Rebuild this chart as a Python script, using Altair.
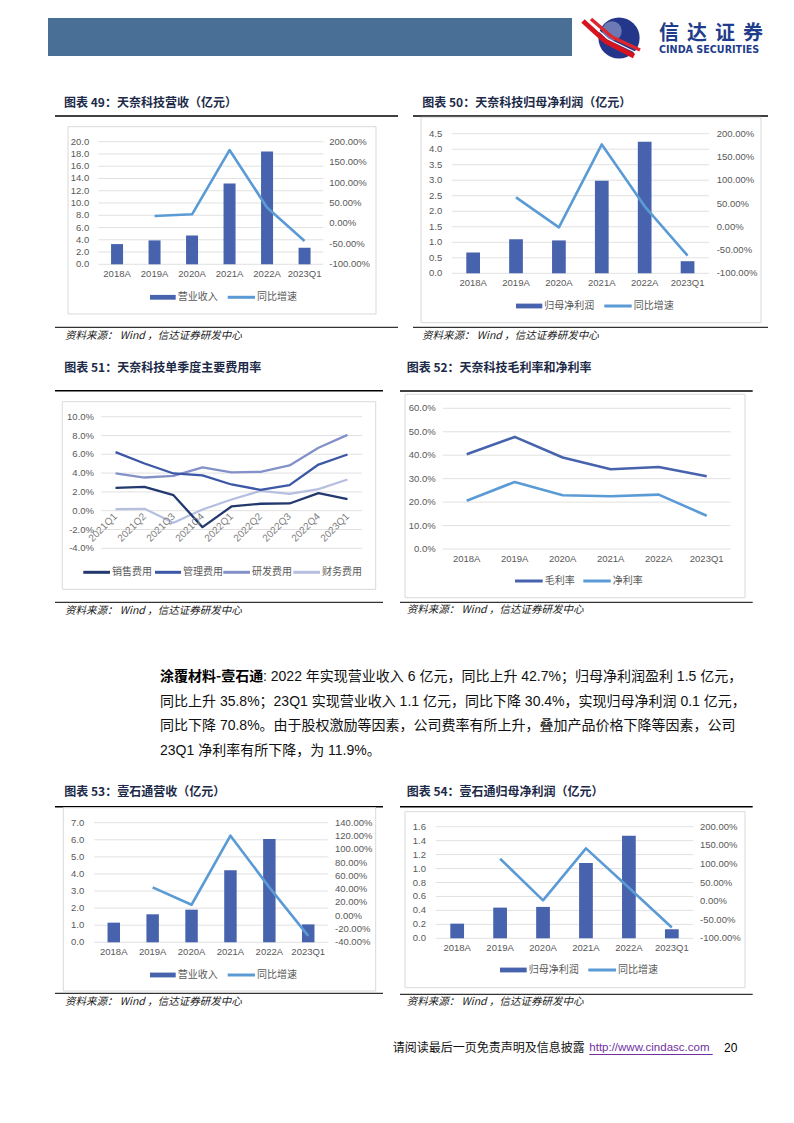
import altair as alt
import pandas as pd

# ---------------- data ----------------
years = ["2018A", "2019A", "2020A", "2021A", "2022A", "2023Q1"]
quarters = ["2021Q1", "2021Q2", "2021Q3", "2021Q4", "2022Q1",
            "2022Q2", "2022Q3", "2022Q4", "2023Q1"]

# 图表49 天奈科技营收
tn_revenue = [3.3, 3.9, 4.7, 13.2, 18.4, 2.7]
tn_revenue_yoy = [None, 18.2, 22.3, 179.6, 39.0, -43.0]
# 图表50 天奈科技归母净利润
tn_profit = [0.67, 1.10, 1.06, 2.98, 4.24, 0.39]
tn_profit_yoy = [None, 63.2, -1.2, 177.0, 44.0, -62.0]
# 图表51 单季度费用率 (%)
sales_rate = [2.43, 2.54, 1.65, -1.75, 0.45, 0.74, 0.77, 1.87, 1.23]
admin_rate = [6.23, 5.02, 3.96, 3.75, 2.79, 2.22, 2.72, 4.91, 5.98]
rd_rate = [3.96, 3.53, 3.71, 4.60, 4.07, 4.14, 4.81, 6.69, 8.07]
fin_rate = [0.16, 0.20, -1.29, 0.13, 1.19, 2.11, 1.79, 2.29, 3.32]
# 图表52 毛利率/净利率 (%)
gross_margin = [40.4, 47.8, 39.0, 34.0, 35.0, 31.0]
net_margin = [20.6, 28.6, 22.9, 22.5, 23.2, 14.2]
# 图表53 壹石通营收
ys_revenue = [1.15, 1.64, 1.91, 4.21, 6.04, 1.05]
ys_revenue_yoy = [None, 42.6, 16.5, 120.4, 42.7, -30.4]
# 图表54 壹石通归母净利润
ys_profit = [0.21, 0.44, 0.45, 1.08, 1.47, 0.13]
ys_profit_yoy = [None, 114.0, 2.1, 141.8, 35.8, -70.8]

# tick values
t49_left = [0, 2, 4, 6, 8, 10, 12, 14, 16, 18, 20]
t49_right = [-100, -50, 0, 50, 100, 150, 200]
t50_left = [0, 0.5, 1.0, 1.5, 2.0, 2.5, 3.0, 3.5, 4.0, 4.5]
t50_right = [-100, -50, 0, 50, 100, 150, 200]
t51_left = [-4, -2, 0, 2, 4, 6, 8, 10]
t52_left = [0, 10, 20, 30, 40, 50, 60]
t53_left = [0, 1, 2, 3, 4, 5, 6, 7]
t53_right = [-40, -20, 0, 20, 40, 60, 80, 100, 120, 140]
t54_left = [0, 0.2, 0.4, 0.6, 0.8, 1.0, 1.2, 1.4, 1.6]
t54_right = [-100, -50, 0, 50, 100, 150, 200]

SOURCE = "资料来源：    Wind  ，信达证券研发中心"
para_bold = "涂覆材料-壹石通"
para_lines = [
    ": 2022 年实现营业收入 6 亿元，同比上升 42.7%；归母净利润盈利 1.5 亿元，",
    "同比上升 35.8%；23Q1 实现营业收入 1.1 亿元，同比下降 30.4%，实现归母净利润 0.1 亿元，",
    "同比下降 70.8%。由于股权激励等因素，公司费率有所上升，叠加产品价格下降等因素，公司",
    "23Q1 净利率有所下降，为 11.9%。",
]

# ---------------- styles ----------------
CJK = "Noto Sans CJK SC"
LAT = "Liberation Sans"
MIX = "Liberation Sans, Noto Sans CJK SC"
GRAY = "#595959"
GRID = "#d9d9d9"
BAR = "#4863ad"
LINE = "#5b9bd5"
TITLE_C = "#1c2a48"
C_SALES = "#22386e"
C_ADMIN = "#3b57a6"
C_RD = "#8391c8"
C_FIN = "#b7bfe0"

ONE = pd.DataFrame({"k": [0]})
layers = []


def P(v):
    return v - 8


def text(s, x, y, size=10, color="#000000", font=CJK, weight="normal",
         align="left", baseline="middle", style="normal"):
    layers.append(
        alt.Chart(ONE).mark_text(align=align, baseline=baseline, font=font,
                                 fontSize=size, color=color, fontWeight=weight,
                                 fontStyle=style)
        .encode(x=alt.value(P(x)), y=alt.value(P(y)), text=alt.value(s)))


def rule(x1, y1, x2, y2, color="#000000", width=1.0):
    layers.append(
        alt.Chart(ONE).mark_rule(color=color, strokeWidth=width, strokeCap="butt")
        .encode(x=alt.value(P(x1)), y=alt.value(P(y1)),
                x2=alt.value(P(x2)), y2=alt.value(P(y2))))


def rect(x1, y1, x2, y2, fill, stroke=None, sw=1.0):
    kw = dict(fill=fill)
    if stroke:
        kw.update(stroke=stroke, strokeWidth=sw)
    layers.append(
        alt.Chart(ONE).mark_rect(**kw)
        .encode(x=alt.value(P(x1)), x2=alt.value(P(x2)),
                y=alt.value(P(y1)), y2=alt.value(P(y2))))


def frame(title, tx, ty, ry, rx1, rx2, box, sry, sx, sy):
    text(title, tx, ty, size=12, color=TITLE_C, weight="bold")
    rule(rx1, ry, rx2, ry, "#000000", 1.5)
    rect(box[0], box[1], box[2], box[3], "#ffffff", "#d9d9d9", 1)
    rule(rx1, sry, rx2, sry, "#000000", 1.0)
    text(SOURCE, sx, sy, size=10.5, color="#1a1a1a", style="italic")


def scales(cats, x0, x1, ylo, yhi, ybot, ytop):
    band = alt.Scale(domain=cats, range=[P(x0), P(x1)],
                     paddingInner=0.68, paddingOuter=0.34)
    pt = alt.Scale(type="point", domain=cats, range=[P(x0), P(x1)], padding=0.5)
    ys = alt.Scale(domain=[ylo, yhi], range=[P(ybot), P(ytop)], nice=False, zero=(ylo == 0))
    return band, pt, ys


def grid_and_labels(ticks, ys, gx0, gx1, lx, fmt, align="right", grid=True):
    df = pd.DataFrame({"t": ticks, "s": [fmt(t) for t in ticks]})
    if grid:
        layers.append(
            alt.Chart(df).mark_rule(color=GRID, strokeWidth=0.8)
            .encode(y=alt.Y("t:Q", scale=ys, axis=None),
                    x=alt.value(P(gx0)), x2=alt.value(P(gx1))))
    layers.append(
        alt.Chart(df).mark_text(align=align, baseline="middle", font=LAT,
                                fontSize=9.5, color=GRAY)
        .encode(y=alt.Y("t:Q", scale=ys, axis=None), x=alt.value(P(lx)),
                text="s:N"))


def xlabels(cats, pt, y, angle=None):
    kw = dict(align="center", baseline="middle", font=LAT, fontSize=9.5, color=GRAY)
    if angle:
        kw.update(angle=angle, align="right", color="#7f7f7f", fontSize=10)
    layers.append(
        alt.Chart(pd.DataFrame({"c": cats})).mark_text(**kw)
        .encode(x=alt.X("c:N", scale=pt, axis=None), y=alt.value(P(y)), text="c:N"))


def series_line(cats, vals, pt, ys, color, width=2.5):
    df = pd.DataFrame({"c": cats, "v": vals}).dropna()
    layers.append(
        alt.Chart(df).mark_line(color=color, strokeWidth=width, strokeJoin="round")
        .encode(x=alt.X("c:N", scale=pt, axis=None),
                y=alt.Y("v:Q", scale=ys, axis=None)))


def combo(cats, vals, yoy, x0, x1, ytop, ybot, lt, rt, lx, rx, xly, lfmt):
    band, pt, ly = scales(cats, x0, x1, lt[0], lt[-1], ybot, ytop)
    ry = alt.Scale(domain=[rt[0], rt[-1]], range=[P(ybot), P(ytop)], nice=False, zero=False)
    grid_and_labels(lt, ly, x0, x1, lx, lfmt)
    grid_and_labels(rt, ry, x0, x1, rx, lambda t: f"{t:.2f}%", align="left", grid=False)
    layers.append(
        alt.Chart(pd.DataFrame({"c": cats, "v": vals})).mark_bar(color=BAR)
        .encode(x=alt.X("c:N", scale=band, axis=None),
                y=alt.Y("v:Q", scale=ly, axis=None)))
    series_line(cats, yoy, pt, ry, LINE, 2.6)
    xlabels(cats, pt, xly)


def legend_bar(x1, x2, y, label):
    rect(x1, y - 2.4, x2, y + 2.4, BAR)
    text(label, x2 + 2, y, size=10, color=GRAY)


def legend_line(x1, x2, y, label, color=LINE):
    rule(x1, y, x2, y, color, 3)
    text(label, x2 + 2, y, size=10, color=GRAY)


# ---------------- header ----------------
rect(48, 18, 572, 56, "#4a6f96")
layers.append(alt.Chart(ONE).mark_point(shape="circle", filled=True, opacity=1,
                                        color="#24368a", size=1700)
              .encode(x=alt.value(P(619)), y=alt.value(P(38))))
layers.append(alt.Chart(ONE).mark_point(shape="circle", filled=True, opacity=0.45,
                                        color="#c5cbe8", size=380)
              .encode(x=alt.value(P(612)), y=alt.value(P(31))))
rule(583, 21, 605, 41, "#d7141e", 5)
rule(605, 41, 634, 56, "#d7141e", 5)
rule(591, 19, 612, 37, "#e0262d", 3.5)
rule(612, 37, 640, 50, "#e0262d", 3.5)
rule(587, 20, 608, 39, "#ffffff", 1.3)
rule(608, 39, 637, 53, "#ffffff", 1.3)
for i, ch in enumerate("信达证券"):
    text(ch, 659 + i * 28, 34, size=20, color="#1f3d8c", weight="bold")
text("CINDA SECURITIES", 659, 50, size=9.6, color="#1f3d8c", font="DejaVu Sans", weight="bold")

# ---------------- 图表49 ----------------
frame("图表 49：天奈科技营收（亿元）", 64, 102.7, 116, 55, 398,
      (68, 126.7, 376, 314), 327.3, 65, 335.7)
combo(years, tn_revenue, tn_revenue_yoy, 98.3, 323.3, 141.7, 264.3,
      t49_left, t49_right, 89.3, 329.3, 274.3, lambda t: f"{t:.1f}")
legend_bar(150, 175.7, 297.3, "营业收入")
legend_line(227.7, 255, 297.3, "同比增速")

# ---------------- 图表50 ----------------
frame("图表 50：天奈科技归母净利润（亿元）", 422.3, 103.3, 116, 413, 768,
      (421, 117.3, 761, 322.7), 327.3, 422, 335.7)
combo(years, tn_profit, tn_profit_yoy, 451.7, 709, 133.7, 273.3,
      t50_left, t50_right, 442.3, 716.7, 283.3, lambda t: f"{t:.1f}")
legend_bar(516, 542.3, 306, "归母净利润")
legend_line(604.3, 631.7, 306, "同比增速")

# ---------------- 图表51 ----------------
frame("图表 51：天奈科技单季度主要费用率", 64.3, 368.3, 390.7, 55, 383,
      (62.3, 401.7, 375.7, 589.3), 602.3, 65, 611)
_, pt51, ys51 = scales(quarters, 101, 362, -4, 10, 548.3, 416.7)
grid_and_labels(t51_left, ys51, 101, 362, 94, lambda t: f"{t:.1f}%")
series_line(quarters, fin_rate, pt51, ys51, C_FIN, 2.3)
series_line(quarters, rd_rate, pt51, ys51, C_RD, 2.3)
series_line(quarters, admin_rate, pt51, ys51, C_ADMIN, 2.3)
series_line(quarters, sales_rate, pt51, ys51, C_SALES, 2.3)
xlabels(quarters, pt51, 515, angle=315)
legend_line(83.3, 110, 572.3, "销售费用", C_SALES)
legend_line(155, 181, 572.3, "管理费用", C_ADMIN)
legend_line(223.3, 250, 572.3, "研发费用", C_RD)
legend_line(293.3, 320, 572.3, "财务费用", C_FIN)

# ---------------- 图表52 ----------------
frame("图表 52：天奈科技毛利率和净利率", 406.7, 368.3, 391, 400, 752.7,
      (405, 394.3, 745, 597.7), 602.3, 406.7, 610.3)
_, pt52, ys52 = scales(years, 442.7, 730.7, 0, 60, 549, 408.3)
grid_and_labels(t52_left, ys52, 442.7, 730.7, 435.7, lambda t: f"{t:.1f}%")
series_line(years, net_margin, pt52, ys52, LINE, 2.6)
series_line(years, gross_margin, pt52, ys52, BAR, 2.6)
xlabels(years, pt52, 559)
legend_line(515, 542.7, 581, "毛利率", BAR)
legend_line(583.3, 610.7, 581, "净利率", LINE)

# ---------------- paragraph ----------------
text(para_bold, 160, 677, size=14, color="#000000", weight="bold")
text(para_lines[0], 263, 677, size=14, color="#111111", font=MIX)
text(para_lines[1], 160, 701.5, size=14, color="#111111", font=MIX)
text(para_lines[2], 160, 726, size=14, color="#111111", font=MIX)
text(para_lines[3], 160, 750.5, size=14, color="#111111", font=MIX)

# ---------------- 图表53 ----------------
frame("图表 53：壹石通营收（亿元）", 64.3, 791.7, 806.7, 55, 383,
      (63.3, 807.7, 375.7, 991), 993.3, 65, 1001.7)
combo(years, ys_revenue, ys_revenue_yoy, 94.3, 327.7, 822.7, 942.3,
      t53_left, t53_right, 84.3, 335, 952.3, lambda t: f"{t:.1f}")
legend_bar(150, 175.7, 975, "营业收入")
legend_line(227.7, 255, 975, "同比增速")

# ---------------- 图表54 ----------------
frame("图表 54：壹石通归母净利润（亿元）", 406.7, 791.7, 806.7, 400, 752.7,
      (405, 811.7, 745, 987.7), 994.3, 406.7, 1001.7)
combo(years, ys_profit, ys_profit_yoy, 435.7, 693.3, 826.7, 938.3,
      t54_left, t54_right, 426, 700, 948.3, lambda t: f"{t:.1f}")
legend_bar(500, 526.7, 970, "归母净利润")
legend_line(588.3, 616, 970, "同比增速")

# ---------------- footer ----------------
text("请阅读最后一页免责声明及信息披露", 392.7, 1048.3, size=12, color="#111111")
text("http://www.cindasc.com", 589.3, 1048.3, size=11.5, color="#7030a0", font=LAT)
rule(589.3, 1054.5, 712.7, 1054.5, "#7030a0", 1)
text("20", 724, 1048.3, size=12, color="#000000", font=LAT)

chart = (
    alt.layer(*layers)
    .resolve_scale(x="independent", y="independent")
    .properties(width=776, height=1090, padding=0)
    .configure(font=CJK)
    .configure_view(stroke="transparent", strokeWidth=0)
)
chart.save("out.html", embed_options={"renderer": "svg", "actions": False})
